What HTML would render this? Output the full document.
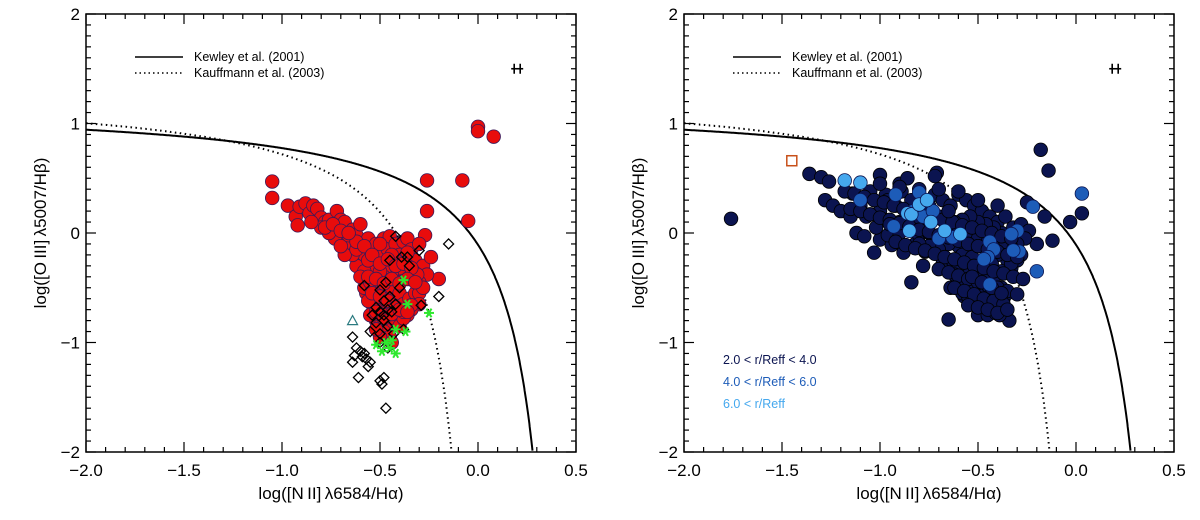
<!DOCTYPE html>
<html><head><meta charset="utf-8"><style>
body{margin:0;background:#fff}
svg{display:block}
text{font-family:"Liberation Sans",sans-serif}
</style></head><body>
<svg id="chart" width="1200" height="520" viewBox="0 0 1200 520" xmlns="http://www.w3.org/2000/svg"></svg>
<script>
const xTicks=[-2.0,-1.5,-1.0,-0.5,0.0,0.5];
const xTickLabels=["\u22122.0","\u22121.5","\u22121.0","\u22120.5","0.0","0.5"];
const yTicks=[-2,-1,0,1,2];
const yTickLabels=["\u22122","\u22121","0","1","2"];
const redX=[-1.05,-1.05,0.0,0.0,0.08,-0.26,-0.08,-0.26,-0.05,-0.27,-0.2,-0.57,-0.97,-0.93,-0.92,-0.91,-0.88,-0.86,-0.84,-0.82,-0.8,-0.78,-0.76,-0.74,-0.72,-0.71,-0.7,-0.68,-0.67,-0.66,-0.64,-0.62,-0.6,-0.6,-0.58,-0.56,-0.55,-0.54,-0.52,-0.5,-0.48,-0.46,-0.45,-0.42,-0.4,-0.38,-0.36,-0.34,-0.32,-0.3,-0.28,-0.24,-0.26,-0.3,-0.33,-0.36,-0.38,-0.4,-0.42,-0.44,-0.46,-0.48,-0.5,-0.52,-0.62,-0.64,-0.58,-0.56,-0.48,-0.46,-0.44,-0.42,-0.4,-0.38,-0.35,-0.32,-0.3,-0.28,-0.3,-0.34,-0.36,-0.4,-0.44,-0.46,-0.5,-0.52,-0.54,-0.52,-0.5,-0.48,-0.46,-0.44,-0.42,-0.4,-0.38,-0.48,-0.45,-0.5,-0.44,-0.52,-0.55,-0.56,-0.58,-0.6,-0.68,-0.73,-0.76,-0.8,-0.85,-0.7,-0.5,-0.44,-0.36,-0.31,-0.4,-0.55,-0.62,-0.66,-0.62,-0.58,-0.54,-0.5,-0.46,-0.42,-0.38,-0.34,-0.56,-0.52,-0.48,-0.44,-0.4,-0.36,-0.32,-0.54,-0.5,-0.46,-0.42,-0.38,-0.34,-0.52,-0.48,-0.44,-0.4,-0.36,-0.78,-0.74,-0.7,-0.66];
const redY=[0.47,0.32,0.97,0.93,0.88,0.48,0.48,0.2,0.11,-0.02,-0.42,-0.55,0.25,0.15,0.07,0.24,0.27,0.18,0.25,0.22,0.14,0.1,0.12,0.06,0.2,0.0,0.12,0.1,-0.05,-0.1,0.03,-0.02,-0.1,0.08,-0.2,-0.05,-0.15,-0.3,-0.1,-0.2,-0.05,-0.15,-0.03,-0.1,-0.2,-0.08,-0.05,-0.15,-0.25,-0.1,-0.3,-0.22,-0.38,-0.45,-0.35,-0.3,-0.4,-0.32,-0.25,-0.38,-0.3,-0.4,-0.35,-0.45,-0.3,-0.2,-0.35,-0.25,-0.5,-0.55,-0.5,-0.6,-0.55,-0.65,-0.6,-0.55,-0.55,-0.5,-0.65,-0.7,-0.75,-0.7,-0.7,-0.65,-0.6,-0.7,-0.65,-0.8,-0.85,-0.75,-0.8,-0.85,-0.8,-0.85,-0.78,-0.9,-0.95,-0.95,-1.0,-0.88,-0.75,-0.62,-0.5,-0.4,-0.2,-0.05,0.0,0.05,0.1,-0.12,-0.1,-0.2,-0.18,-0.38,-0.45,-0.45,-0.15,-0.02,-0.08,-0.12,-0.2,-0.28,-0.24,-0.3,-0.28,-0.32,-0.4,-0.42,-0.46,-0.42,-0.46,-0.42,-0.45,-0.55,-0.58,-0.62,-0.68,-0.72,-0.66,-0.72,-0.78,-0.74,-0.7,-0.72,0.05,0.08,0.02,0.0];
const diamondX=[-0.42,-0.15,-0.58,-0.2,-0.29,-0.45,-0.39,-0.3,-0.5,-0.48,-0.45,-0.52,-0.5,-0.48,-0.46,-0.44,-0.42,-0.54,-0.52,-0.48,-0.46,-0.55,-0.5,-0.43,-0.38,-0.4,-0.47,-0.64,-0.62,-0.6,-0.63,-0.59,-0.57,-0.55,-0.56,-0.64,-0.61,-0.5,-0.48,-0.49,-0.47,-0.5,-0.46,-0.58,-0.35,-0.36];
const diamondY=[-0.03,-0.1,-0.48,-0.58,-0.66,-0.25,-0.22,-0.16,-0.52,-0.62,-0.58,-0.68,-0.72,-0.75,-0.7,-0.72,-0.65,-0.75,-0.82,-0.8,-0.85,-0.9,-0.92,-0.92,-0.88,-0.5,-0.45,-0.95,-1.05,-1.08,-1.12,-1.13,-1.15,-1.18,-1.22,-1.18,-1.32,-1.35,-1.32,-1.38,-1.6,-1.0,-1.05,-1.1,-0.3,-0.22];
const starX=[-0.38,-0.36,-0.25,-0.42,-0.37,-0.52,-0.47,-0.44,-0.49,-0.42,-0.45];
const starY=[-0.43,-0.65,-0.73,-0.88,-0.9,-1.02,-1.0,-0.98,-1.08,-1.1,-1.05];
const triX=[-0.64];
const triY=[-0.8];
const navyX=[-1.76,-0.18,-0.14,0.03,-0.03,-0.12,-0.65,-0.34,-1.0,-0.71,-0.72,-1.36,-1.3,-1.26,-1.28,-1.24,-1.2,-1.15,-1.14,-1.12,-1.08,-1.03,-1.0,-0.94,-0.88,-0.82,-0.77,-0.9,-0.86,-0.97,-1.05,-1.1,-1.07,-1.0,-0.96,-0.92,-0.89,-0.84,-0.8,-0.76,-0.72,-0.68,-0.64,-0.6,-0.56,-0.52,-0.48,-0.44,-0.4,-0.36,-0.32,-0.28,-0.24,-0.2,-0.16,-0.26,-0.3,-0.34,-0.38,-0.42,-0.46,-0.5,-0.54,-0.58,-0.62,-0.66,-0.7,-0.74,-0.78,-0.82,-0.86,-0.9,-0.94,-0.98,-1.02,-0.96,-0.9,-0.85,-0.8,-0.75,-0.7,-0.65,-0.6,-0.55,-0.5,-0.45,-0.4,-0.36,-0.32,-0.28,-0.3,-0.35,-0.4,-0.45,-0.5,-0.55,-0.6,-0.65,-0.7,-0.75,-0.8,-0.68,-0.63,-0.58,-0.53,-0.48,-0.43,-0.38,-0.33,-0.45,-0.5,-0.55,-0.6,-0.42,-0.38,-0.46,-0.48,-0.44,-0.4,-0.52,-0.58,-0.62,-0.57,-0.52,-0.47,-0.42,-0.37,-0.5,-0.45,-0.64,-0.84,-0.78,-0.58,-0.55,-0.35,-0.45,-0.33,-0.25,-0.47,-0.43,-0.41,-0.39,
-1.18,-1.13,-1.08,-1.03,-0.98,-0.93,-0.88,-0.83,-0.78,-0.73,-0.68,-0.63,-0.58,-0.53,-0.48,-0.43,-0.38,-0.33,-1.15,-1.1,-1.05,-1.0,-0.95,-0.9,-0.85,-0.8,-0.75,-0.7,-0.65,-0.6,-0.55,-0.5,-0.45,-0.4,-0.35,-0.3,-0.92,-0.87,-0.82,-0.77,-0.72,-0.67,-0.62,-0.57,-0.52,-0.47,-0.42,-0.37,-0.32,-0.27,-0.7,-0.65,-0.6,-0.55,-0.5,-0.45,-0.4,-0.35,-0.3,-0.62,-0.57,-0.52,-0.47,-0.42,-0.37,-0.55,-0.5,-0.45,-0.4,-0.35,-0.53,-0.48,-0.43,-0.38,-0.9,-0.8,-0.7,-0.6,-0.5,-0.4,-1.0,-0.95,-0.85,-0.75,-0.65];
const navyY=[0.13,0.76,0.57,0.18,0.1,-0.07,-0.79,-0.8,0.53,0.55,0.52,0.54,0.51,0.47,0.3,0.25,0.2,0.15,0.36,0.0,-0.03,-0.18,-0.06,-0.11,-0.18,-0.1,-0.17,0.45,0.5,0.35,0.38,0.25,0.15,0.2,0.3,0.25,0.38,0.3,0.22,0.28,0.35,0.3,0.25,0.35,0.3,0.25,0.2,0.15,0.1,0.15,0.05,0.08,0.02,-0.1,0.15,-0.05,-0.1,-0.05,0.0,0.05,0.08,0.1,0.15,0.12,0.1,0.08,0.15,0.1,0.05,0.12,0.08,0.1,0.05,0.12,0.05,-0.02,0.0,0.05,-0.02,0.0,-0.05,0.02,0.0,-0.05,-0.05,-0.08,-0.12,-0.08,-0.15,-0.2,-0.25,-0.25,-0.2,-0.15,-0.12,-0.1,-0.12,-0.1,-0.15,-0.12,-0.1,-0.28,-0.25,-0.2,-0.22,-0.3,-0.28,-0.35,-0.32,-0.38,-0.4,-0.35,-0.3,-0.45,-0.5,-0.55,-0.6,-0.65,-0.55,-0.48,-0.45,-0.38,-0.58,-0.62,-0.72,-0.7,-0.6,-0.75,-0.75,-0.5,-0.45,-0.3,-0.55,-0.58,-0.55,-0.6,-0.28,0.28,-0.4,-0.68,-0.73,-0.75,
0.38,0.36,0.33,0.3,0.28,0.25,0.22,0.2,0.17,0.15,0.12,0.1,0.07,0.05,0.02,0.0,-0.03,-0.05,0.22,0.2,0.17,0.14,0.12,0.09,0.06,0.03,0.01,-0.02,-0.04,-0.07,-0.1,-0.12,-0.15,-0.17,-0.2,-0.22,-0.08,-0.11,-0.14,-0.16,-0.19,-0.22,-0.24,-0.27,-0.3,-0.32,-0.35,-0.37,-0.4,-0.42,-0.33,-0.36,-0.39,-0.42,-0.45,-0.48,-0.5,-0.53,-0.56,-0.5,-0.53,-0.56,-0.6,-0.62,-0.65,-0.66,-0.68,-0.7,-0.73,-0.7,-0.4,-0.45,-0.5,-0.55,0.42,0.4,0.4,0.38,0.3,0.25,0.45,0.08,0.18,0.25,0.2];
const midX=[0.03,-0.22,-0.8,-0.92,-1.1,-0.83,-0.93,-0.78,-0.7,-0.63,-0.44,-0.42,-0.45,-0.47,-0.3,-0.33,-0.29,-0.32,-0.2,-0.44,-0.73];
const midY=[0.36,0.24,0.37,0.35,0.3,0.2,0.06,0.15,-0.05,-0.04,-0.08,-0.15,-0.22,-0.24,0.02,-0.01,-0.17,-0.16,-0.35,-0.47,0.2];
const lightX=[-1.18,-1.1,-0.86,-0.84,-0.8,-0.74,-0.85,-0.67,-0.59,-0.76];
const lightY=[0.48,0.46,0.18,0.17,0.26,0.1,0.02,0.02,-0.01,0.3];
const squareX=[-1.45];
const squareY=[0.66];

const NS="http://www.w3.org/2000/svg";
const svg=document.getElementById('chart');
function mk(tag,attrs,parent){const e=document.createElementNS(NS,tag);for(const k in attrs)e.setAttribute(k,attrs[k]);(parent||svg).appendChild(e);return e;}
const Y0=14,Y1=452;
function panel(L,R,name){
  const g=mk('g',{});
  
  
  const sx=v=>L+(v+2)/2.5*(R-L);
  const sy=v=>Y1-(v+2)/4*(Y1-Y0);
  const cv=(fn,xmax,dash,nm)=>{let d='';for(let x=-2;x<=xmax;x+=0.002){const y=fn(x);if(y<-2)break;d+=(d?'L':'M')+sx(x).toFixed(1)+','+sy(y).toFixed(1);}
    const p=mk('path',{d:d,fill:'none',stroke:'#000','stroke-width':2,'stroke-dasharray':dash?'1.5,3.5':'none'},g);
    };
  cv(x=>0.61/(x-0.47)+1.19,0.28,false,'kewley-curve');
  cv(x=>0.61/(x-0.05)+1.3,-0.13,true,'kauffmann-curve');
  const fr=mk('rect',{x:L,y:Y0,width:R-L,height:Y1-Y0,fill:'none',stroke:'#000','stroke-width':1.5},g);
  
  for(let i=0;i<=25;i++){const v=-2+i*0.1,x=sx(v),len=(i%5==0)?10:5;
    mk('line',{x1:x,y1:Y1,x2:x,y2:Y1-len,stroke:'#000','stroke-width':1.2},g);
    mk('line',{x1:x,y1:Y0,x2:x,y2:Y0+len,stroke:'#000','stroke-width':1.2},g);}
  for(let i=0;i<=40;i++){const v=-2+i*0.1,y=sy(v),len=(i%10==0)?10:5;
    mk('line',{x1:L,y1:y,x2:L+len,y2:y,stroke:'#000','stroke-width':1.2},g);
    mk('line',{x1:R,y1:y,x2:R-len,y2:y,stroke:'#000','stroke-width':1.2},g);}
  xTicks.forEach((v,i)=>{const t=mk('text',{x:sx(v),y:476,'font-size':17,'text-anchor':'middle',fill:'#000'},g);t.textContent=xTickLabels[i];
    });
  yTicks.forEach((v,i)=>{const t=mk('text',{x:L-6,y:sy(v)+6,'font-size':17,'text-anchor':'end',fill:'#000'},g);t.textContent=yTickLabels[i];
    });
  const xt=mk('text',{x:(L+R)/2,y:499,'font-size':17,'text-anchor':'middle',fill:'#000'},g);
  xt.textContent='log([N\u2009II]\u2009\u03bb6584/H\u03b1)';
  
  const yt=mk('text',{x:0,y:0,'font-size':17,'text-anchor':'middle',fill:'#000',transform:`translate(${L-40},${(Y0+Y1)/2}) rotate(-90)`},g);
  yt.textContent='log([O\u2009III]\u2009\u03bb5007/H\u03b2)';
  
  const lg=mk('g',{},g);
  mk('line',{x1:L+49,y1:57,x2:L+97,y2:57,stroke:'#000','stroke-width':1.5},lg);
  mk('line',{x1:L+49,y1:73,x2:L+97,y2:73,stroke:'#000','stroke-width':1.5,'stroke-dasharray':'1.5,3'},lg);
  const t1=mk('text',{x:L+108,y:61,'font-size':12.5,fill:'#000'},lg);t1.textContent='Kewley et al. (2001)';
  
  const t2=mk('text',{x:L+108,y:77,'font-size':12.5,fill:'#000'},lg);t2.textContent='Kauffmann et al. (2003)';
  
  const eb=mk('g',{stroke:'#000','stroke-width':1.6},g);
  const ex=sx(0.2),ey=sy(1.5);
  mk('line',{x1:ex-6,y1:ey,x2:ex+6,y2:ey},eb);
  mk('line',{x1:ex-3,y1:ey-5,x2:ex-3,y2:ey+5},eb);
  mk('line',{x1:ex+3,y1:ey-5,x2:ex+3,y2:ey+5},eb);
  return {g,sx,sy};
}
function circles(P,xs,ys,fill,stroke,nm){xs.forEach((x,i)=>{const c=mk('circle',{cx:P.sx(x),cy:P.sy(ys[i]),r:6.8,fill:fill,stroke:stroke,'stroke-width':0.8},P.g);
  });}

const A=panel(86,576,'left-panel');
circles(A,redX,redY,'#e80c0c','#3a1a5a','red-point');
diamondX.forEach((x,i)=>{const cx=A.sx(x),cy=A.sy(diamondY[i]);
  const p=mk('polygon',{points:`${cx},${cy-5} ${cx+5},${cy} ${cx},${cy+5} ${cx-5},${cy}`,fill:'none',stroke:'#000','stroke-width':1.3},A.g);
  });
starX.forEach((x,i)=>{const cx=A.sx(x),cy=A.sy(starY[i]);const s=mk('g',{stroke:'#2ee82e','stroke-width':2},A.g);
  
  [0,60,120].forEach(a=>{const r=a*Math.PI/180;mk('line',{x1:cx-5*Math.cos(r),y1:cy-5*Math.sin(r),x2:cx+5*Math.cos(r),y2:cy+5*Math.sin(r)},s);});});
triX.forEach((x,i)=>{const cx=A.sx(x),cy=A.sy(triY[i]);const p=mk('polygon',{points:`${cx},${cy-5} ${cx+5},${cy+4} ${cx-5},${cy+4}`,fill:'none',stroke:'#2a7a80','stroke-width':1.2},A.g);
  });

const B=panel(684,1174,'right-panel');
circles(B,navyX,navyY,'#0b1450','#000','navy-point');
circles(B,midX,midY,'#1d5cb8','#0b1450','mid-blue-point');
circles(B,lightX,lightY,'#45a8ee','#0b1450','light-blue-point');
squareX.forEach((x,i)=>{const cx=B.sx(x),cy=B.sy(squareY[i]);const r=mk('rect',{x:cx-5,y:cy-5,width:10,height:10,fill:'none',stroke:'#c8501a','stroke-width':1.5},B.g);
  });
const labs=[['2.0 < r/Reff < 4.0','#0b1450',364],['4.0 < r/Reff < 6.0','#1d5cb8',386],['6.0 < r/Reff','#45a8ee',408]];
labs.forEach(l=>{const t=mk('text',{x:723,y:l[2],'font-size':12.5,fill:l[1]},B.g);t.textContent=l[0];
  });
</script>
</body></html>
